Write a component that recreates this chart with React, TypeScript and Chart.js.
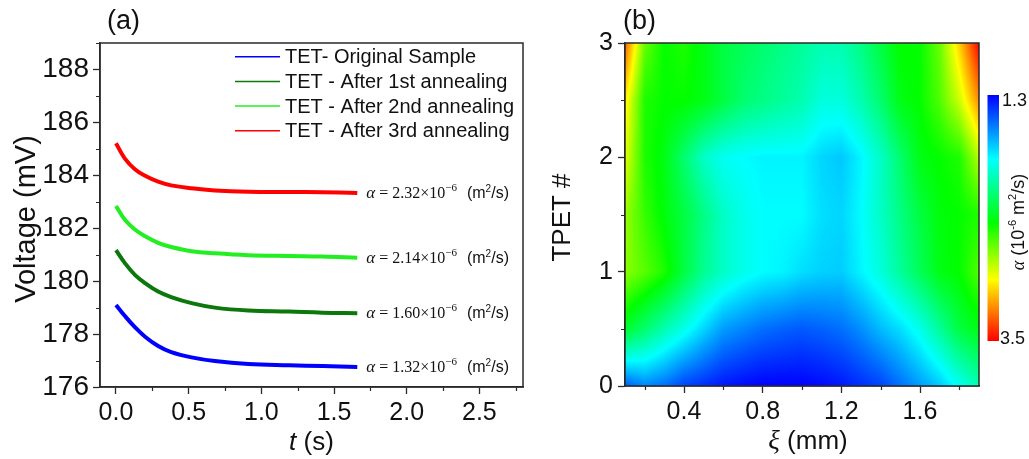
import React, { useEffect, useRef } from "react";
import { Chart, registerables } from "chart.js";

Chart.register(...registerables);

// ---------------- Panel (a) data ----------------
const timeS = [0, 0.06, 0.13, 0.2, 0.29, 0.38, 0.52, 0.68, 0.91, 1.19, 1.42, 1.66];
const originalSampleMv = [179.1, 178.69, 178.26, 177.9, 177.55, 177.32, 177.12, 176.98, 176.87, 176.82, 176.79, 176.76];
const anneal1Mv = [181.17, 180.69, 180.24, 179.93, 179.61, 179.4, 179.17, 179.0, 178.89, 178.85, 178.81, 178.79];
const anneal2Mv = [182.84, 182.33, 181.95, 181.7, 181.45, 181.29, 181.13, 181.05, 180.98, 180.95, 180.93, 180.88];
const anneal3Mv = [185.21, 184.64, 184.23, 183.98, 183.76, 183.62, 183.51, 183.43, 183.38, 183.37, 183.36, 183.33];
const seriesLabels = [
  "TET- Original Sample",
  "TET - After 1st annealing",
  "TET - After 2nd annealing",
  "TET - After 3rd annealing",
];
const alphaValues = ["1.32", "1.60", "2.14", "2.32"];
const timeTicks = [0, 0.5, 1.0, 1.5, 2.0, 2.5];
const timeMinorTicks = [0.25, 0.75, 1.25, 1.75, 2.25, 2.75];
const voltageTicks = [176, 178, 180, 182, 184, 186, 188];
const voltageMinorTicks = [177, 179, 181, 183, 185, 187, 189];

// ---------------- Panel (b) data ----------------
const xiMm = [0.1, 0.2, 0.3, 0.4, 0.5, 0.6, 0.7, 0.8, 0.9, 1.0, 1.1, 1.2, 1.3, 1.4, 1.5, 1.6, 1.7, 1.8, 1.9];
const tpetIndex = [0, 0.5, 1, 1.5, 2, 2.5, 3];
const alphaTpet00 = [1.5, 1.6, 1.55, 1.45, 1.4, 1.35, 1.32, 1.3, 1.3, 1.3, 1.32, 1.35, 1.4, 1.45, 1.55, 1.65, 1.75, 1.9, 2.05];
const alphaTpet05 = [2.35, 2.2, 2.05, 1.92, 1.78, 1.65, 1.6, 1.55, 1.52, 1.5, 1.52, 1.55, 1.62, 1.72, 1.8, 1.92, 2.1, 2.3, 2.4];
const alphaTpet10 = [2.72, 2.62, 2.5, 2.3, 2.12, 2.0, 1.92, 1.87, 1.85, 1.8, 1.77, 1.76, 1.85, 1.95, 2.1, 2.25, 2.4, 2.45, 2.6];
const alphaTpet15 = [2.75, 2.55, 2.42, 2.3, 2.15, 2.0, 1.92, 1.87, 1.87, 1.87, 1.8, 1.78, 1.87, 2.0, 2.15, 2.3, 2.42, 2.45, 2.5];
const alphaTpet20 = [2.9, 2.5, 2.4, 2.2, 2.0, 1.9, 1.87, 1.85, 1.85, 1.85, 1.78, 1.75, 1.85, 2.0, 2.2, 2.4, 2.45, 2.5, 2.8];
const alphaTpet25 = [3.0, 2.5, 2.45, 2.45, 2.4, 2.3, 2.2, 2.15, 2.1, 2.05, 1.95, 1.95, 2.05, 2.2, 2.4, 2.45, 2.6, 2.85, 3.2];
const alphaTpet30 = [3.3, 2.65, 2.45, 2.5, 2.4, 2.3, 2.25, 2.2, 2.15, 2.1, 2.05, 2.05, 2.15, 2.3, 2.45, 2.45, 2.65, 3.05, 3.5];
const xiTicks = [0.4, 0.8, 1.2, 1.6];
const xiMinorTicks = [0.2, 0.6, 1.0, 1.4, 1.8];
const tpetTicks = [0, 1, 2, 3];
const tpetMinorTicks = [0.5, 1.5, 2.5];
const colorbarMin = 1.3;
const colorbarMax = 3.5;

// ---------------- styles ----------------
const SANS = '"Liberation Sans", Arial, Helvetica, sans-serif';
const SERIF = '"Liberation Serif", "Times New Roman", Times, serif';
const AXIS = "#2a2a2a";
const TEXT = "#111";
const lineColors = ["#0000ff", "#0c780c", "#22ee22", "#ff0000"];
const paletteStops: [number, number, number, number][] = [
  [0, 0, 0, 255],
  [0.26, 0, 255, 255],
  [0.52, 0, 255, 0],
  [0.75, 255, 255, 0],
  [1, 255, 0, 0],
];

type Seg = { text: string; font: string; dy?: number; dx?: number };

function segWidth(ctx: CanvasRenderingContext2D, segs: Seg[]) {
  let w = 0;
  for (const s of segs) {
    ctx.font = s.font;
    w += ctx.measureText(s.text).width + (s.dx || 0);
  }
  return w;
}

function drawSegs(ctx: CanvasRenderingContext2D, segs: Seg[], x: number, y: number, align: "left" | "center") {
  let cx = align === "center" ? x - segWidth(ctx, segs) / 2 : x;
  ctx.textAlign = "left";
  ctx.textBaseline = "alphabetic";
  for (const s of segs) {
    cx += s.dx || 0;
    ctx.font = s.font;
    ctx.fillText(s.text, cx, y + (s.dy || 0));
    cx += ctx.measureText(s.text).width;
  }
}

function drawMinorTicks(chart: any, xs: number[], ys: number[], len: number) {
  const { ctx, chartArea: ca, scales } = chart;
  ctx.save();
  ctx.strokeStyle = AXIS;
  ctx.lineWidth = 1.2;
  ctx.beginPath();
  for (const v of xs) {
    if (v < scales.x.min || v > scales.x.max) continue;
    const px = Math.round(scales.x.getPixelForValue(v)) + 0.5;
    ctx.moveTo(px, ca.bottom);
    ctx.lineTo(px, ca.bottom + len);
  }
  for (const v of ys) {
    if (v < scales.y.min || v > scales.y.max) continue;
    const py = Math.round(scales.y.getPixelForValue(v)) + 0.5;
    ctx.moveTo(ca.left, py);
    ctx.lineTo(ca.left - len, py);
  }
  ctx.stroke();
  ctx.restore();
}

function drawFrame(chart: any) {
  const { ctx, chartArea: ca } = chart;
  ctx.save();
  ctx.strokeStyle = AXIS;
  ctx.lineWidth = 1.5;
  ctx.strokeRect(ca.left, ca.top, ca.right - ca.left, ca.bottom - ca.top);
  ctx.restore();
}

// ---------------- panel (a) plugin ----------------
const panelAPlugin = {
  id: "panelA",
  afterDraw(chart: any) {
    const { ctx, chartArea: ca, scales } = chart;
    drawFrame(chart);
    drawMinorTicks(chart, timeMinorTicks, voltageMinorTicks, 4);

    ctx.save();
    ctx.fillStyle = TEXT;
    // legend
    chart.data.datasets.forEach((ds: any, i: number) => {
      const y = ca.top + 13.7 + i * 24.7;
      ctx.strokeStyle = ds.borderColor;
      ctx.lineWidth = 1.5;
      ctx.beginPath();
      ctx.moveTo(ca.left + 135, y);
      ctx.lineTo(ca.left + 180, y);
      ctx.stroke();
      ctx.font = `20px ${SANS}`;
      ctx.textAlign = "left";
      ctx.textBaseline = "middle";
      ctx.fillText(ds.label, ca.left + 185, y + 1);
    });

    // alpha annotations next to curve ends
    chart.data.datasets.forEach((ds: any, i: number) => {
      const last = ds.data[ds.data.length - 1];
      const px = scales.x.getPixelForValue(last.x) + 9;
      const py = scales.y.getPixelForValue(last.y) + 5;
      const segs: Seg[] = [
        { text: "α", font: `italic 17px ${SERIF}` },
        { text: " = ", font: `16px ${SERIF}` },
        { text: `${alphaValues[i]}×10`, font: `16px ${SERIF}` },
        { text: "−6", font: `11px ${SERIF}`, dy: -7 },
        { text: "(m", font: `16px ${SANS}`, dx: 10 },
        { text: "2", font: `10px ${SANS}`, dy: -6 },
        { text: "/s)", font: `16px ${SANS}` },
      ];
      drawSegs(ctx, segs, px, py, "left");
    });

    // panel letter
    ctx.font = `27px ${SANS}`;
    ctx.textAlign = "left";
    ctx.textBaseline = "middle";
    ctx.fillText("(a)", 107, 22);

    // y title
    ctx.save();
    ctx.translate(27, (ca.top + ca.bottom) / 2 + 4);
    ctx.rotate(-Math.PI / 2);
    ctx.font = `29px ${SANS}`;
    ctx.textAlign = "center";
    ctx.textBaseline = "middle";
    ctx.fillText("Voltage (mV)", 0, 0);
    ctx.restore();

    // x title
    drawSegs(
      ctx,
      [
        { text: "t", font: `italic 26px ${SANS}` },
        { text: " (s)", font: `26px ${SANS}` },
      ],
      (ca.left + ca.right) / 2,
      450,
      "center"
    );
    ctx.restore();
  },
};

// ---------------- panel (b) helpers ----------------
const alphaGrid = [alphaTpet00, alphaTpet05, alphaTpet10, alphaTpet15, alphaTpet20, alphaTpet25, alphaTpet30];

function segIndex(arr: number[], v: number) {
  let i = 0;
  while (i < arr.length - 2 && v > arr[i + 1]) i++;
  return i;
}

function sampleAlpha(xv: number, yv: number) {
  const i = segIndex(xiMm, xv);
  const j = segIndex(tpetIndex, yv);
  const tx = Math.min(1, Math.max(0, (xv - xiMm[i]) / (xiMm[i + 1] - xiMm[i])));
  const ty = Math.min(1, Math.max(0, (yv - tpetIndex[j]) / (tpetIndex[j + 1] - tpetIndex[j])));
  const r0 = alphaGrid[j];
  const r1 = alphaGrid[j + 1];
  const a = r0[i] * (1 - tx) + r0[i + 1] * tx;
  const b = r1[i] * (1 - tx) + r1[i + 1] * tx;
  return a * (1 - ty) + b * ty;
}

function paletteColor(p: number): [number, number, number] {
  const q = Math.min(1, Math.max(0, p));
  for (let k = 0; k < paletteStops.length - 1; k++) {
    const s0 = paletteStops[k];
    const s1 = paletteStops[k + 1];
    if (q <= s1[0]) {
      const t = (q - s0[0]) / (s1[0] - s0[0]);
      return [s0[1] + (s1[1] - s0[1]) * t, s0[2] + (s1[2] - s0[2]) * t, s0[3] + (s1[3] - s0[3]) * t];
    }
  }
  const l = paletteStops[paletteStops.length - 1];
  return [l[1], l[2], l[3]];
}

const heatmapPlugin = {
  id: "heatmap",
  beforeDatasetsDraw(chart: any) {
    const { ctx, chartArea: ca, scales } = chart;
    const x0 = Math.round(ca.left);
    const y0 = Math.round(ca.top);
    const w = Math.round(ca.right) - x0;
    const h = Math.round(ca.bottom) - y0;
    const off = document.createElement("canvas");
    off.width = w;
    off.height = h;
    const octx = off.getContext("2d")!;
    const img = octx.createImageData(w, h);
    for (let py = 0; py < h; py++) {
      const yv = scales.y.getValueForPixel(y0 + py + 0.5);
      for (let px = 0; px < w; px++) {
        const xv = scales.x.getValueForPixel(x0 + px + 0.5);
        const v = sampleAlpha(xv, yv);
        const [r, g, b] = paletteColor((v - colorbarMin) / (colorbarMax - colorbarMin));
        const o = (py * w + px) * 4;
        img.data[o] = r;
        img.data[o + 1] = g;
        img.data[o + 2] = b;
        img.data[o + 3] = 255;
      }
    }
    octx.putImageData(img, 0, 0);
    ctx.drawImage(off, x0, y0);
  },
  afterDraw(chart: any) {
    const { ctx, chartArea: ca } = chart;
    drawFrame(chart);
    drawMinorTicks(chart, xiMinorTicks, tpetMinorTicks, 4);

    // colorbar
    const cbL = ca.right + 8.5;
    const cbW = 11.5;
    const cbTop = 95;
    const cbBot = 341;
    ctx.save();
    const grad = ctx.createLinearGradient(0, cbTop, 0, cbBot);
    paletteStops.forEach((s) => grad.addColorStop(s[0], `rgb(${s[1]},${s[2]},${s[3]})`));
    ctx.fillStyle = grad;
    ctx.fillRect(cbL, cbTop, cbW, cbBot - cbTop);

    ctx.fillStyle = TEXT;
    ctx.font = `18px ${SANS}`;
    ctx.textAlign = "left";
    ctx.textBaseline = "middle";
    ctx.fillText(String(colorbarMin.toFixed(1)), cbL + cbW + 3, cbTop + 6);
    ctx.fillText(String(colorbarMax.toFixed(1)), cbL + cbW + 1, cbBot - 2);

    // colorbar title (rotated)
    ctx.save();
    ctx.translate(487, (cbTop + cbBot) / 2 + 4);
    ctx.rotate(-Math.PI / 2);
    drawSegs(
      ctx,
      [
        { text: "α", font: `italic 18px ${SERIF}` },
        { text: " (10", font: `18px ${SANS}` },
        { text: "-6", font: `11px ${SANS}`, dy: -8 },
        { text: " m", font: `18px ${SANS}` },
        { text: "2", font: `11px ${SANS}`, dy: -8 },
        { text: "/s)", font: `18px ${SANS}` },
      ],
      0,
      7,
      "center"
    );
    ctx.restore();

    // panel letter
    ctx.font = `27px ${SANS}`;
    ctx.textAlign = "left";
    ctx.textBaseline = "middle";
    ctx.fillText("(b)", 93, 22);

    // y title
    ctx.save();
    ctx.translate(33, (ca.top + ca.bottom) / 2 + 3);
    ctx.rotate(-Math.PI / 2);
    ctx.font = `26px ${SANS}`;
    ctx.textAlign = "center";
    ctx.textBaseline = "middle";
    ctx.fillText("TPET #", 0, 0);
    ctx.restore();

    // x title
    drawSegs(
      ctx,
      [
        { text: "ξ", font: `italic 27px ${SERIF}` },
        { text: " (mm)", font: `26px ${SANS}` },
      ],
      (ca.left + ca.right) / 2 + 6,
      449,
      "center"
    );
    ctx.restore();
  },
};

function axisCommon(fontSize: number, pad: number) {
  return {
    grid: { display: true, drawOnChartArea: false, drawTicks: true, tickLength: 7, tickWidth: 1.3, tickColor: AXIS },
    border: { display: true, color: AXIS, width: 1.5 },
    ticks: { font: { family: SANS, size: fontSize }, color: TEXT, padding: pad, maxRotation: 0, autoSkip: false },
  };
}

export default function App() {
  const refA = useRef<HTMLCanvasElement>(null);
  const refB = useRef<HTMLCanvasElement>(null);

  useEffect(() => {
    const seriesValues = [originalSampleMv, anneal1Mv, anneal2Mv, anneal3Mv];
    const ax = axisCommon(25, 4);
    const ay = axisCommon(28, 4);
    const chartA = new Chart(refA.current!, {
      type: "line",
      data: {
        datasets: seriesValues.map((vals, i) => ({
          label: seriesLabels[i],
          data: timeS.map((t, j) => ({ x: t, y: vals[j] })),
          borderColor: lineColors[i],
          backgroundColor: lineColors[i],
          borderWidth: 4,
          pointRadius: 0,
          tension: 0.4,
          fill: false,
        })),
      },
      options: {
        responsive: false,
        animation: false,
        devicePixelRatio: 1,
        layout: { padding: { left: 0, top: 43, right: 7, bottom: 0 } },
        plugins: { legend: { display: false }, tooltip: { enabled: false } },
        scales: {
          x: {
            type: "linear",
            min: -0.11,
            max: 2.8,
            ...ax,
            ticks: { ...ax.ticks, callback: (v: any) => Number(v).toFixed(1) },
            afterBuildTicks: (s: any) => {
              s.ticks = timeTicks.map((value) => ({ value }));
            },
            afterFit: (s: any) => {
              s.height = 72;
            },
          },
          y: {
            type: "linear",
            min: 176,
            max: 189,
            ...ay,
            ticks: { ...ay.ticks, callback: (v: any) => String(v) },
            afterBuildTicks: (s: any) => {
              s.ticks = voltageTicks.map((value) => ({ value }));
            },
            afterFit: (s: any) => {
              s.width = 100;
            },
          },
        },
      } as any,
      plugins: [panelAPlugin],
    });

    const bx = axisCommon(25, 4);
    const by = axisCommon(25, 5);
    const gridPoints: { x: number; y: number }[] = [];
    tpetIndex.forEach((tp) => xiMm.forEach((xi) => gridPoints.push({ x: xi, y: tp })));
    const chartB = new Chart(refB.current!, {
      type: "scatter",
      data: {
        datasets: [
          {
            label: "α",
            data: gridPoints,
            pointRadius: 0,
            showLine: false,
          },
        ],
      },
      options: {
        responsive: false,
        animation: false,
        devicePixelRatio: 1,
        layout: { padding: { left: 0, top: 43, right: 50, bottom: 0 } },
        plugins: { legend: { display: false }, tooltip: { enabled: false } },
        scales: {
          x: {
            type: "linear",
            min: 0.1,
            max: 1.9,
            ...bx,
            ticks: { ...bx.ticks, callback: (v: any) => Number(v).toFixed(1) },
            afterBuildTicks: (s: any) => {
              s.ticks = xiTicks.map((value) => ({ value }));
            },
            afterFit: (s: any) => {
              s.height = 73;
            },
          },
          y: {
            type: "linear",
            min: 0,
            max: 3,
            ...by,
            ticks: { ...by.ticks, callback: (v: any) => String(v) },
            afterBuildTicks: (s: any) => {
              s.ticks = tpetTicks.map((value) => ({ value }));
            },
            afterFit: (s: any) => {
              s.width = 95;
            },
          },
        },
      } as any,
      plugins: [heatmapPlugin],
    });

    return () => {
      chartA.destroy();
      chartB.destroy();
    };
  }, []);

  return (
    <div style={{ position: "absolute", left: 0, top: 0, width: 1029, height: 459, background: "#fff" }}>
      <canvas
        ref={refA}
        width={530}
        height={459}
        style={{ position: "absolute", left: 0, top: 0, width: 530, height: 459 }}
      />
      <canvas
        ref={refB}
        width={499}
        height={459}
        style={{ position: "absolute", left: 530, top: 0, width: 499, height: 459 }}
      />
    </div>
  );
}
